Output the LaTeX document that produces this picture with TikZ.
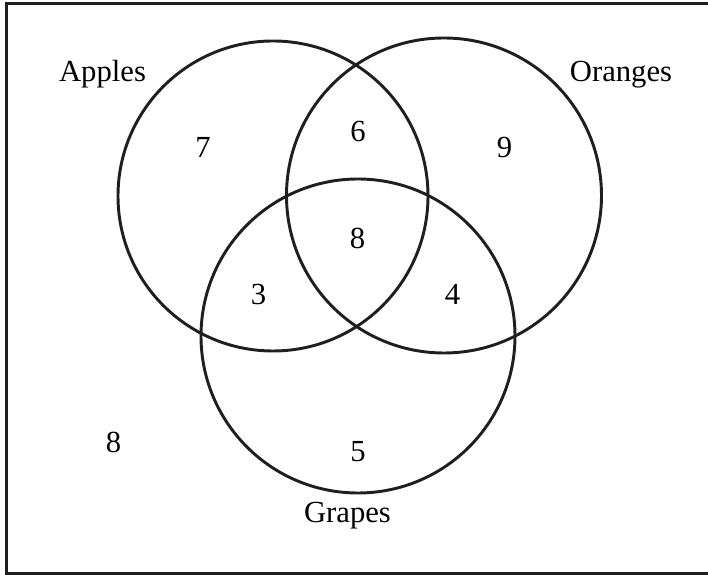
\documentclass[tikz,border=0pt]{standalone}
\usepackage{fontspec}
\setmainfont{Liberation Serif}
\begin{document}
\begin{tikzpicture}[x=0.75pt,y=0.75pt,
  setline/.style={line width=2.2pt,draw=black!88},
  lbl/.style={anchor=base,inner sep=0pt,font=\fontsize{23}{27}\selectfont}]
\useasboundingbox (0,0) rectangle (708,575);
\draw[setline] (6.5,1.5) rectangle (720,571.5);
\draw[setline] (273,379) circle (155);
\draw[setline] (444,379.5) circle (157.5);
\draw[setline] (358,239) circle (157);
\node[lbl] (apples) at (102.5,575-82) {Apples};
\node[lbl] (oranges) at (621,575-82) {Oranges};
\node[lbl] (grapes) at (347.5,575-523) {Grapes};
\node[lbl] (a) at (203,575-158) {7};
\node[lbl] (o) at (504.5,575-158) {9};
\node[lbl] (ao) at (358,575-142) {6};
\node[lbl] (aog) at (357.5,575-249) {8};
\node[lbl] (ag) at (258.5,575-305) {3};
\node[lbl] (og) at (452.5,575-305) {4};
\node[lbl] (g) at (358,575-462) {5};
\node[lbl] (none) at (113.5,575-453) {8};
\end{tikzpicture}
\end{document}
